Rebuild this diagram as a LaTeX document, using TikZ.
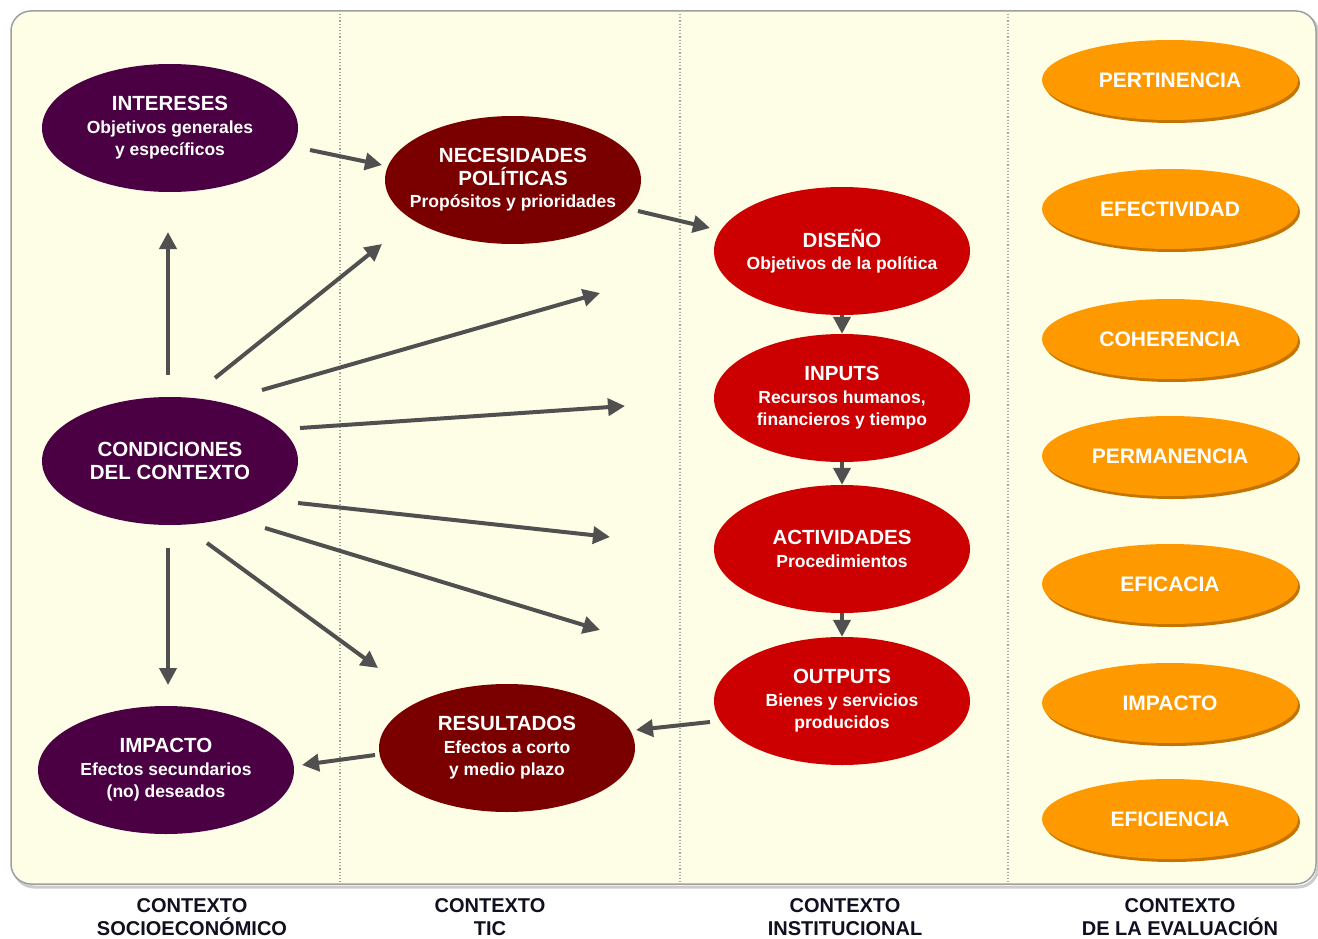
\documentclass[tikz,border=0pt]{standalone}
\usepackage{fontspec}
\setmainfont{Liberation Sans}
\usetikzlibrary{shapes.geometric,arrows.meta,calc}
\definecolor{panel}{HTML}{FEFDE6}
\definecolor{purp}{HTML}{4A0042}
\definecolor{dred}{HTML}{7A0000}
\definecolor{rred}{HTML}{CC0000}
\definecolor{orng}{HTML}{FF9900}
\definecolor{orngsh}{HTML}{C47400}
\definecolor{arrc}{HTML}{505050}
\definecolor{labc}{HTML}{101020}
\newcommand{\ttl}[1]{{\fontsize{20.5}{23}\selectfont #1}}
\begin{document}
\begin{tikzpicture}[x=1pt,y=-1pt,
  ell/.style={ellipse,minimum width=256pt,minimum height=128pt,inner xsep=-40pt,inner ysep=-10pt,align=center,text=white,font=\bfseries\fontsize{17.5}{22.5}\selectfont},
  pnode/.style={ell,fill=purp},
  dnode/.style={ell,fill=dred},
  rnode/.style={ell,fill=rred},
  onode/.style={ell,minimum height=80pt,fill=orng,font=\bfseries\fontsize{21}{24}\selectfont},
  oshadow/.style={ellipse,minimum width=256pt,minimum height=80pt,inner sep=0pt,fill=orngsh},
  arr/.style={draw=arrc,line width=4pt,-{Triangle[length=17pt,width=17pt]}},
  lab/.style={align=center,text=labc,font=\bfseries\fontsize{20}{23.5}\selectfont}
]
\useasboundingbox (0,0) rectangle (1318,939);
\fill[white] (0,0) rectangle (1318,939);
% panel
\draw[gray!40,line width=3pt,rounded corners=20pt] (14,14) rectangle (1318,887);
\draw[fill=panel,draw=gray!75,line width=1.5pt,rounded corners=20pt] (11,11) rectangle (1316,884);
% dividers
\foreach \xx in {340,680,1008}
  \draw[gray!70,line width=1.2pt,dotted] (\xx,14) -- (\xx,882);

% nodes
\node[pnode] (intereses) at (170,128) {\ttl{INTERESES}\\Objetivos generales\\y específicos};
\node[dnode] (necesidades) at (513,180) {\ttl{NECESIDADES}\\\ttl{POLÍTICAS}\\Propósitos y prioridades};
\node[rnode] (diseno) at (842,251) {\ttl{DISEÑO}\\Objetivos de la política};
\node[rnode] (inputs) at (842,398) {\ttl{INPUTS}\\Recursos humanos,\\financieros y tiempo};
\node[rnode] (actividades) at (842,549) {\ttl{ACTIVIDADES}\\Procedimientos};
\node[rnode] (outputs) at (842,701) {\ttl{OUTPUTS}\\Bienes y servicios\\producidos};
\node[dnode] (resultados) at (507,748) {\ttl{RESULTADOS}\\Efectos a corto\\y medio plazo};
\node[pnode] (impacto) at (166,770) {\ttl{IMPACTO}\\Efectos secundarios\\(no) deseados};
\node[pnode] (cond) at (170,461) {\ttl{CONDICIONES}\\\ttl{DEL CONTEXTO}};

% evaluation criteria
\foreach \nm/\yy/\tx in {pert/80/PERTINENCIA,efec/209/EFECTIVIDAD,cohe/339/COHERENCIA,perm/456/PERMANENCIA,efic/584/EFICACIA,impc/703/IMPACTO,efin/819/EFICIENCIA}{
  \node[oshadow] at (1172,\yy+3) {};
  \node[onode] (\nm) at (1170,\yy) {\tx};
}

% free ends
\coordinate (e1) at (600,293);
\coordinate (e2) at (625,406);
\coordinate (e3) at (610,537);
\coordinate (e4) at (600,630);

% arrows
\draw[arr] ($(intereses)+(140,22)$) -- ($(necesidades)+(-131,-15)$);
\draw[arr] ($(necesidades)+(125,31)$) -- ($(diseno)+(-132,-23)$);
\draw[arr] (diseno.south) -- (inputs.north);
\draw[arr] (inputs.south) -- (actividades.north);
\draw[arr] (actividades.south) -- (outputs.north);
\draw[arr] ($(outputs)+(-132,21)$) -- ($(resultados)+(129,-18)$);
\draw[arr] ($(resultados)+(-132,7)$) -- ($(impacto)+(136,-5)$);
\draw[arr] ($(cond)+(-2,-86)$) -- ($(intereses)+(-2,104)$);
\draw[arr] ($(cond)+(45,-83)$) -- ($(necesidades)+(-131,64)$);
\draw[arr] ($(cond)+(92,-71)$) -- (e1);
\draw[arr] ($(cond)+(130,-33)$) -- (e2);
\draw[arr] ($(cond)+(128,42)$) -- (e3);
\draw[arr] ($(cond)+(95,67)$) -- (e4);
\draw[arr] ($(cond)+(37,82)$) -- ($(resultados)+(-129,-80)$);
\draw[arr] ($(cond)+(-2,87)$) -- ($(impacto)+(2,-85)$);

% column labels
\node[lab] (l1) at (192,917) {CONTEXTO\\SOCIOECONÓMICO};
\node[lab] (l2) at (490,917) {CONTEXTO\\TIC};
\node[lab] (l3) at (845,917) {CONTEXTO\\INSTITUCIONAL};
\node[lab] (l4) at (1180,917) {CONTEXTO\\DE LA EVALUACIÓN};
\end{tikzpicture}
\end{document}
